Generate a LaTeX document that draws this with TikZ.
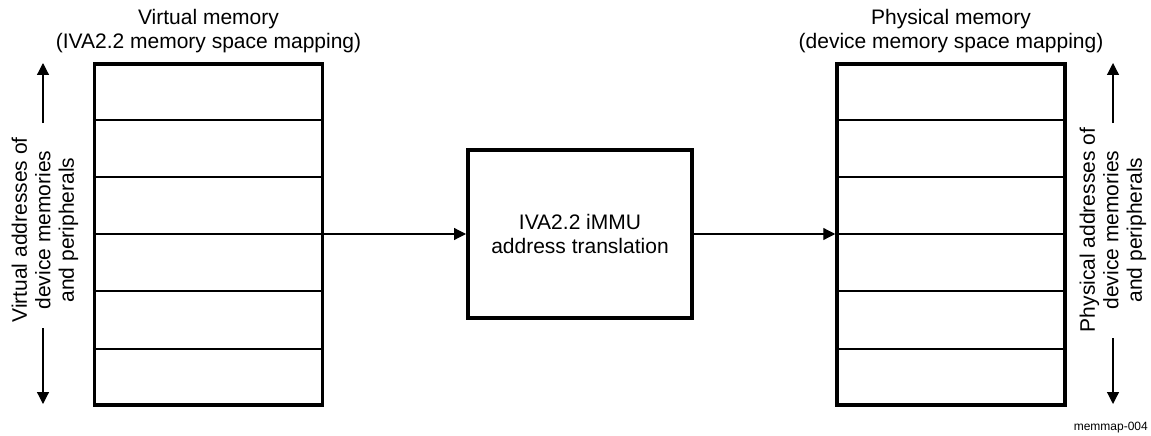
\documentclass[tikz,border=0pt]{standalone}
\usepackage{fontspec}
\setmainfont{Liberation Sans}
\usetikzlibrary{arrows.meta}
\begin{document}
\begin{tikzpicture}[x=1pt,y=-1pt,
  every node/.style={font=\fontsize{21}{23.5}\selectfont, inner sep=0pt},
  membox/.style={draw, line width=3.5pt, minimum width=228pt, minimum height=341pt},
  mmubox/.style={draw, line width=4pt, minimum width=224pt, minimum height=168pt, align=center},
  rowline/.style={line width=1.5pt},
  conn/.style={line width=1.2pt, -{Triangle[length=12pt,width=12pt]}},
  title/.style={align=center},
  sidelabel/.style={align=center, rotate=90},
  tag/.style={font=\fontsize{12}{14}\selectfont}]
\useasboundingbox (0,0) rectangle (1151,436);
\node[membox] (vm) at (208.5,234.5) {};
\node[membox] (pm) at (951,234.5) {};
\node[mmubox] (mmu) at (580,234) {IVA2.2 iMMU\\address translation};
\foreach \r in {120,177,234,291,349} {
  \draw[rowline] (vm.west |- 0,\r) -- (vm.east |- 0,\r);
  \draw[rowline] (pm.west |- 0,\r) -- (pm.east |- 0,\r);
}
\draw[conn] (mmu.west -| vm.east) -- (mmu.west);
\draw[conn] (mmu.east) -- (mmu.east -| pm.west);
\node[title] (vmt) at (208.5,31) {Virtual memory\\(IVA2.2 memory space mapping)};
\node[title] (pmt) at (951,31) {Physical memory\\(device memory space mapping)};
\node[sidelabel] (vl) at (45,230) {Virtual addresses of\\device memories\\and peripherals};
\node[sidelabel] (pl) at (1113,230) {Physical addresses of\\device memories\\and peripherals};
\coordinate (vua) at (43,123); \coordinate (vub) at (43,63);
\coordinate (vda) at (43,328); \coordinate (vdb) at (43,404);
\coordinate (pua) at (1113,123); \coordinate (pub) at (1113,63);
\coordinate (pda) at (1113,338); \coordinate (pdb) at (1113,404);
\draw[conn] (vua) -- (vub);
\draw[conn] (vda) -- (vdb);
\draw[conn] (pua) -- (pub);
\draw[conn] (pda) -- (pdb);
\node[tag, anchor=base east] (tag) at (1148,430) {memmap-004};
\end{tikzpicture}
\end{document}
